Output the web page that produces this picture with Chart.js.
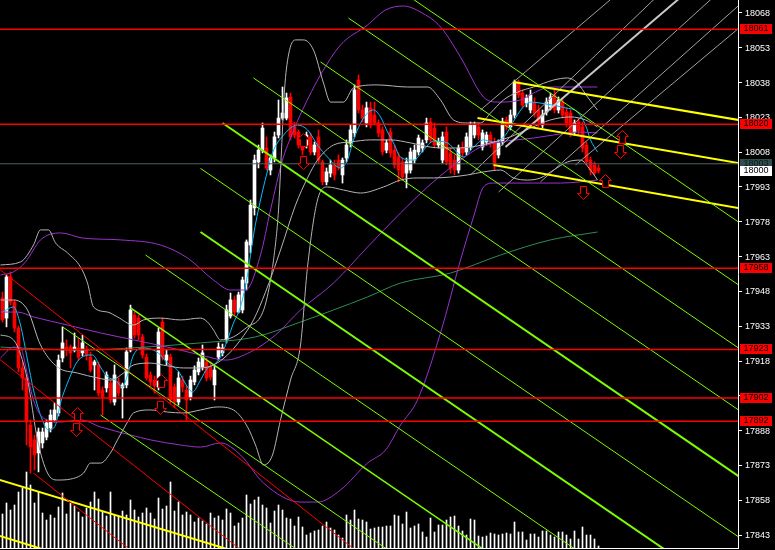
<!DOCTYPE html>
<html>
<head>
<meta charset="utf-8">
<script src="https://cdn.jsdelivr.net/npm/chart.js@4.4.0/dist/chart.umd.min.js"></script>
<style>
html, body { margin: 0; padding: 0; background: #000; overflow: hidden; }
#grafico { display: block; }
</style>
</head>
<body>
<canvas id="grafico" width="775" height="550"></canvas>
<script>
// Velas (preços)
const abertura = [17945.2,17936.5,17954.2,17943.4,17932.2,17915.0,17910.7,17890.4,17884.0,17878.4,
17882.7,17885.2,17889.1,17892.6,17895.6,17919.3,17924.0,17924.0,17922.7,17923.6,
17921.5,17922.7,17919.7,17916.3,17916.3,17905.5,17906.4,17908.5,17900.3,17909.0,
17906.4,17907.7,17922.7,17937.8,17936.5,17928.4,17919.7,17912.0,17909.8,17906.8,
17934.8,17918.4,17919.7,17906.8,17900.3,17909.8,17905.5,17902.5,17909.0,17913.3,
17915.4,17917.6,17915.4,17907.7,17919.7,17921.5,17927.1,17937.4,17944.3,17939.1,
17940.0,17951.6,17968.0,17984.0,18003.8,18008.9,18009.8,18000.3,18005.5,18015.4,
18022.7,18022.7,18031.8,18018.9,18016.7,18011.1,18011.1,18014.6,18008.1,18014.6,
18003.8,17995.2,17999.0,18002.5,18004.6,17998.2,18005.5,18012.0,18016.3,18039.1,
18026.2,18020.6,18027.1,18024.0,18020.6,18017.6,18008.9,18016.7,18008.9,18005.9,
18003.8,17999.0,18000.3,18004.6,18008.1,18009.8,18013.3,18021.0,18018.4,18011.1,
18004.6,18016.7,18007.7,18004.6,18000.3,18010.2,18008.1,18010.2,18015.4,18018.9,
18010.2,18012.4,18015.4,18012.4,18006.8,18012.4,18021.9,18018.9,18024.0,18038.3,
18033.5,18029.2,18026.2,18029.2,18026.2,18019.7,18025.3,18027.5,18032.7,18026.2,
18029.6,18025.3,18024.9,18016.7,18021.0,18018.9,18011.1,18004.6,18002.5,18001.2];
const maxima = [17947.7,17955.1,17956.4,17944.3,17933.1,17917.6,17912.0,17892.6,17886.1,17889.1,
17889.1,17892.6,17896.9,17899.9,17920.6,17932.7,17927.1,17924.9,17930.1,17927.9,
17929.2,17924.5,17921.9,17918.4,17917.6,17906.8,17913.3,17909.8,17916.3,17910.7,
17908.5,17923.6,17942.1,17939.1,17937.8,17929.6,17921.0,17913.3,17911.5,17932.2,
17936.5,17922.7,17921.0,17908.1,17913.3,17911.5,17907.2,17911.5,17915.9,17919.3,
17924.9,17919.3,17917.6,17915.9,17925.8,17925.3,17942.1,17947.3,17946.0,17947.7,
17954.2,17970.2,17987.4,18006.8,18011.1,18020.6,18014.6,18006.8,18016.7,18030.5,
18036.1,18033.5,18033.5,18021.0,18017.6,18012.4,18016.7,18016.3,18012.4,18017.6,
18004.6,18001.2,18004.6,18004.6,18006.8,18005.5,18013.3,18019.7,18037.0,18041.3,
18028.3,18029.6,18029.6,18029.6,18021.9,18018.9,18013.3,18018.4,18011.1,18007.7,
18005.5,18005.5,18009.8,18011.1,18015.4,18013.3,18022.7,18022.7,18020.6,18014.1,
18016.7,18018.9,18009.8,18006.8,18011.1,18012.4,18016.3,18021.0,18021.0,18020.6,
18017.6,18016.7,18016.7,18014.1,18013.3,18022.7,18023.2,18026.2,18039.1,18039.1,
18034.8,18032.7,18034.8,18031.4,18028.3,18026.2,18031.4,18033.5,18034.8,18031.8,
18031.4,18027.1,18026.2,18021.9,18022.7,18021.0,18012.4,18005.9,18003.8,18002.5];
const minima = [17934.8,17932.7,17942.1,17930.5,17913.3,17905.5,17881.8,17869.7,17871.0,17870.2,
17880.5,17884.0,17887.4,17891.7,17894.3,17917.6,17920.2,17915.0,17921.9,17918.4,
17920.2,17918.4,17913.3,17905.5,17902.9,17894.7,17904.6,17899.9,17899.0,17902.9,
17893.4,17906.4,17921.9,17927.9,17927.1,17919.3,17909.8,17907.2,17904.2,17905.5,
17918.4,17916.3,17899.9,17897.8,17899.0,17904.6,17892.6,17901.2,17907.7,17912.0,
17914.1,17909.4,17909.8,17901.2,17918.4,17920.2,17925.8,17936.5,17937.4,17938.7,
17938.7,17948.6,17964.6,17980.9,18001.2,18007.7,18000.3,17998.2,18003.8,18014.1,
18021.9,18021.9,18013.3,18014.1,18009.8,18006.8,18009.8,18006.8,18006.8,18003.3,
17993.9,17993.9,17997.3,17996.0,18000.3,17994.7,18003.8,18010.2,18014.6,18024.9,
18021.0,18018.9,18018.4,18019.7,18014.6,18006.8,18007.7,18005.9,18001.2,17995.2,
17996.0,17992.6,17999.0,18003.3,18006.8,18008.1,18012.0,18012.0,18009.8,18009.8,
18003.3,18002.5,17999.0,17998.2,17999.0,18005.9,18006.8,18008.9,18014.1,18013.3,
18008.9,18011.1,18010.2,18000.3,18005.5,18011.1,18017.6,18017.6,18022.7,18031.4,
18027.1,18027.5,18024.9,18023.2,18018.9,18018.4,18024.0,18026.2,18024.9,18024.9,
18022.7,18018.9,18014.6,18015.4,18015.4,18008.1,18002.5,17998.2,17998.2,17999.0];
const fechamento = [17935.7,17954.2,17943.4,17932.2,17915.0,17910.7,17891.7,17880.9,17877.5,17887.4,
17887.4,17891.3,17894.7,17896.9,17918.4,17925.8,17922.7,17921.5,17924.0,17919.7,
17925.8,17920.6,17914.1,17917.6,17904.2,17902.5,17912.0,17901.2,17912.0,17904.2,
17907.7,17921.9,17940.0,17929.2,17929.2,17920.6,17910.7,17909.0,17907.2,17930.5,
17919.7,17920.6,17901.2,17900.3,17910.7,17906.8,17901.2,17909.8,17914.1,17917.6,
17921.5,17910.7,17911.1,17914.1,17924.0,17923.6,17940.0,17944.3,17939.1,17946.5,
17952.9,17969.3,17985.2,18004.6,18008.9,18018.4,18001.2,18005.5,18014.6,18022.7,
18024.9,18031.4,18014.6,18015.4,18011.1,18008.9,18015.4,18008.1,18011.1,18004.6,
17995.2,17999.5,18002.5,17998.2,18001.6,18004.6,18011.1,18017.6,18034.8,18026.2,
18022.7,18027.1,18019.7,18020.6,18016.3,18008.1,18012.0,18007.7,18002.5,18000.3,
17997.3,18003.8,18008.1,18008.9,18014.1,18012.0,18020.6,18013.3,18011.1,18012.4,
18014.6,18003.8,18001.2,18000.3,18009.8,18007.7,18014.6,18019.7,18019.7,18015.4,
18016.3,18015.4,18012.0,18002.5,18012.0,18021.0,18018.9,18024.0,18038.3,18032.7,
18028.3,18031.4,18032.7,18024.9,18021.0,18024.0,18029.6,18031.8,18026.2,18030.5,
18024.0,18020.6,18016.3,18020.6,18017.2,18009.8,18003.8,18000.3,17999.0,17999.9];
const volumes = [34,45,38,43,56,60,76,63,45,56, 35,28,33,30,41,55,34,45,42,36,
31,40,46,56,49,36,32,56,33,32, 37,33,48,38,31,35,40,35,29,50,
39,42,66,37,46,33,36,33,26,30, 27,24,35,30,32,28,39,35,22,25,
30,53,44,48,51,43,40,25,37,43, 38,30,29,22,31,21,13,15,17,18,
22,26,20,18,13,10,33,28,38,29, 28,26,19,20,21,21,22,22,33,32,
24,36,20,22,24,16,11,30,16,23, 23,28,31,32,22,17,13,29,28,12,
11,12,15,14,13,14,15,14,26,16, 16,8,14,14,11,17,17,13,11,16,
16,13,9,17,9,21,13,13,9,2];

// Eixo de preços
const ticksPreco = [17843,17858,17873,17888,17903,17918,17933,17948,17963,17978,17993,18008,18023,18038,18053,18068];
const linhasHorizontais = [18061, 18020, 17958, 17923, 17902, 17892];
const precoBid = 18003;
const precoAtual = 18000;

// Indicadores (posição da barra, preço)
const mediaRapidaX = [0,2.75,4.5,6.25,7.75,9.5,11.5,13.25,14.5,16.25,19,22.5,24.5,26.25,28.25,30,31.25,32.75,35.25,37.75,39.5,41.25,43.75,46.25,47.5,49.5,51.25,52.75,54.5,56.25,57.75,59.5,61.25,62.75,64.5,66,67.5,70.25,73.75,76.25,78.75,81.25,84.5,86.25,87.75,90.25,92.75,94.5,96.25,97.75,99.5,102.75,105.25,107.75,111.25,113.75,115.25,117.75,120.25,122.75,125.75,127.5,130,132,135.75,140.75,143.75,145.75,147,148.75];
const mediaRapida = [17939.1,17941.3,17933.5,17918.4,17905.5,17894.7,17888.3,17890.4,17899.9,17908.5,17918.4,17920.6,17915.4,17911.1,17909.8,17906.8,17912.0,17920.6,17923.6,17922.7,17920.6,17917.1,17914.1,17906.8,17904.6,17909.8,17915.0,17916.3,17919.7,17927.1,17934.4,17941.3,17955.1,17972.3,17987.4,17998.2,18007.7,18015.4,18019.7,18017.6,18011.1,18005.9,18001.2,18004.6,18013.3,18022.7,18026.2,18023.2,18016.7,18012.0,18005.9,18004.6,18008.9,18012.8,18012.0,18007.7,18005.9,18010.2,18013.3,18012.4,18015.4,18020.6,18027.1,18029.6,18028.8,18027.1,18025.3,18019.7,18013.3,18008.1];

const bandaCinzaSupX = [-0.5,4.5,7.75,9.5,11.5,13.25,16.25,19.5,21.25,22.75,26.25,28.75,32.75,35.25,39.5,44.5,49.5,51.25,52.75,54.5,57.75,61.25,64.5,66,67.75,69,69.75,70.5,71.5,73.25,75.25,77.75,80.25,82,85.25,87.75,93.75,101.25,106.25,109.5,112.75,116.25,119.5,122,125.25,128.75,132.75,137.75,141.25,143.75,146.25,148.75];
const bandaCinzaSup = [17959.4,17960.7,17968.0,17974.5,17974.5,17968.9,17964.6,17958.5,17951.6,17941.3,17939.1,17937.0,17933.5,17935.7,17936.5,17935.7,17936.5,17934.8,17931.4,17927.1,17928.4,17932.7,17937.0,17944.3,17961.5,17983.1,18008.9,18034.8,18049.9,18056.4,18056.4,18052.0,18037.8,18029.6,18029.6,18035.7,18037.0,18036.1,18036.1,18030.5,18021.9,18020.6,18020.6,18024.9,18030.5,18033.9,18036.1,18039.1,18040.0,18037.8,18031.8,18026.2];
const bandaCinzaMedX = [-0.5,2.75,6.25,9.5,13.75,18.75,23.75,27,30.25,32.75,37,41.25,45.25,49.5,52.75,56.25,59.5,62.75,65.75,69.5,73.25,76.25,78.75,82.75,87,92,97,102,107,112,117,122,127,132,137,142,145.75,148.75];
const bandaCinzaMed = [17944.3,17944.3,17940.0,17924.9,17915.4,17912.8,17910.7,17909.8,17912.8,17916.3,17917.1,17915.9,17915.0,17915.0,17916.3,17920.6,17927.1,17935.7,17947.7,17965.8,17985.2,17996.9,18004.6,18011.1,18012.4,18013.3,18013.3,18012.0,18010.2,18009.8,18010.2,18012.0,18014.6,18018.4,18021.9,18023.2,18021.9,18018.9];
const bandaCinzaInfX = [-0.5,2.75,6.25,8.75,11.25,13.75,17,20.25,22,24.5,27,28.75,31.25,32.75,37,41.25,45.25,49.5,53.75,57.75,61.25,63.25,65.25,67.5,69.5,72,74.5,76.25,78.75,81.25,85.25,89.5,95.25,99.5,103.75,107.75,112,116.25,120.25,124.5,127.75,131.25,134.5,137.75,141.25,144.5,147,148.75];
const bandaCinzaInf = [17929.2,17927.1,17909.8,17884.0,17869.7,17866.7,17867.1,17869.7,17874.0,17874.0,17878.4,17884.0,17891.7,17895.6,17896.9,17896.0,17895.6,17896.9,17898.2,17896.9,17889.6,17881.8,17873.2,17877.5,17892.6,17909.8,17924.9,17958.5,17987.4,17993.0,17991.7,17990.4,17993.0,17996.0,17996.9,17996.9,17997.3,17998.2,17999.5,18000.3,17996.9,17996.0,17996.9,18000.3,18003.8,18004.6,18000.3,17996.0];

const bandaRoxaSupX = [-0.5,2.75,5.75,9.5,14.5,20,29.5,39.5,46.25,52.75,57,60.75,64.5,67,70,72.5,75,79.5,84.5,91.25,95.75,100.25,104.5,109.5,114.5,120.25,123.75,129.5,132.75,137,148.75];
const bandaRoxaSup = [17955.1,17956.4,17960.7,17970.2,17973.2,17971.0,17970.2,17968.0,17962.4,17952.9,17948.6,17948.6,17963.7,17983.1,18004.6,18016.3,18026.2,18041.3,18054.2,18062.8,18069.3,18071.0,18068.4,18062.0,18049.0,18031.8,18029.6,18030.5,18033.5,18036.1,18036.1];
const bandaRoxaMedX = [-0.5,3.75,7.75,16.25,24.5,32.75,41.25,49.5,55.75,62,68.25,74.5,82.75,91.25,99.5,106.25,111.25,114.5,119.5,124.5,132.75,137.75,143.75,148.75];
const bandaRoxaMed = [17939.1,17939.1,17937.0,17933.5,17930.1,17927.1,17924.0,17920.6,17918.4,17921.9,17929.2,17940.0,17951.6,17967.1,17981.8,17993.0,18000.3,18004.6,18010.2,18012.4,18014.1,18015.4,18016.7,18016.3];
const bandaRoxaInfX = [-0.5,2.75,4.5,6.25,7.75,10.25,14.5,19.5,24.5,32,37,44.5,49.5,54.5,59.5,65.25,74.5,78.75,84.5,91.25,95.75,99.5,103.75,109.5,114.5,117.75,120.25,122.75,132.75,139.5,148.75];
const bandaRoxaInf = [17919.3,17924.0,17923.6,17912.0,17901.2,17893.4,17891.7,17892.6,17889.6,17886.1,17884.0,17881.8,17880.9,17882.7,17877.5,17865.4,17857.2,17857.2,17862.4,17874.0,17879.6,17890.4,17901.2,17930.1,17961.5,17980.1,17993.0,17994.7,17994.7,17994.7,17996.0];

const mediaLentaX = [-0.5,19.5,32,49.5,63.25,74.5,82.75,91.25,99.5,112,124.5,137,148.75];
const mediaLenta = [17924.0,17922.7,17923.6,17925.8,17928.4,17934.8,17940.0,17945.6,17951.6,17955.9,17963.7,17970.2,17973.6];

// Linhas desenhadas (barra inicial, preço inicial, barra final, preço final)
const linhasVerdes = [
  [100.75,18076.2,184,17977.9], [86.5,18065.8,184,17950.8], [79.5,18046.9,184,17923.6],
  [62.75,18040.0,184,17896.9], [55,18020.6,184,17868.4], [49.5,18001.0,184,17842.2],
  [49.5,17973.6,184,17815.0], [35.75,17963.7,184,17788.7], [32,17940.9,184,17761.6],
  [15,17932.7,184,17733.1], [24.5,17894.7,184,17706.4]
];
const linhasVermelhas = [
  [7.75,17869.7,34.5,17833.1], [-1,17919.1,62,17833.3], [-1,17957.9,90.75,17833.1]
];
const linhasAmarelas = [
  [-1,17866.9,57,17836.5], [-1,17842.8,10.75,17836.5],
  [127.75,18038.3,184,18021.9], [118.75,18022.7,184,18003.3], [122.75,18002.5,184,17983.9]
];
const linhasCinzas = [
  [125.75,18010.2,170.5,18076.2], [124,17990.8,177.5,18074.5], [119.5,18026.2,152.5,18074.5],
  [134.5,17995.2,185,18072.7], [117,17998.2,163.25,18074.5], [143.25,18002.5,185,18062.8]
];

// Setas
const setasCimaX = [18.75, 39.75, 75.25, 155, 150.75];
const setasCimaY = [17895.2, 17909.4, 18013.3, 18014.6, 17995.6];
const setasBaixoX = [18.5, 39.5, 75.25, 154.5, 145.25];
const setasBaixoY = [17888.3, 17897.8, 18003.3, 18008.1, 17990.4];

const PRECO_MIN = 17837.4, PRECO_MAX = 18073.6;
const X_MIN = -0.625, X_MAX = 183.875;

function pontos(xs, ys) {
  return xs.map((x, k) => ({ x: x, y: ys[k] }));
}

function segmento(l) {
  return [{ x: l[0], y: l[1] }, { x: l[2], y: l[3] }];
}

function linha(dados, cor, largura, extra) {
  return Object.assign({
    type: 'line', data: dados, borderColor: cor, borderWidth: largura,
    pointRadius: 0, fill: false, tension: 0, order: 5
  }, extra || {});
}

function criaSeta(paraCima) {
  const c = document.createElement('canvas');
  c.width = 13; c.height = 14;
  const g = c.getContext('2d');
  let pts = [[6.5,0.5],[12.5,6.5],[9.5,6.5],[9.5,13.5],[3.5,13.5],[3.5,6.5],[0.5,6.5]];
  if (!paraCima) pts = pts.map(p => [p[0], 14 - p[1]]);
  g.beginPath();
  pts.forEach((p, k) => k ? g.lineTo(p[0], p[1]) : g.moveTo(p[0], p[1]));
  g.closePath();
  g.fillStyle = '#000';
  g.fill();
  g.strokeStyle = '#ff0000';
  g.lineWidth = 1;
  g.stroke();
  return c;
}

const corVela = abertura.map((a, i) => fechamento[i] >= a ? '#ffffff' : '#ff0000');
const idx = abertura.map((_, i) => i);

const datasets = [];

datasets.push({
  type: 'bar', yAxisID: 'vol', order: 30, grouped: false,
  data: volumes.map((v, i) => ({ x: i, y: v })),
  backgroundColor: '#ffffff', barThickness: 1, borderWidth: 0
});
datasets.push({
  type: 'bar', order: 25, grouped: false,
  data: idx.map(i => ({ x: i, y: [minima[i], maxima[i]] })),
  backgroundColor: corVela, barThickness: 1, borderWidth: 0
});
datasets.push({
  type: 'bar', order: 24, grouped: false,
  data: idx.map(i => ({ x: i, y: [abertura[i], fechamento[i]] })),
  backgroundColor: corVela, barThickness: 3, borderWidth: 0, minBarLength: 1
});

// Indicadores
const suave = { cubicInterpolationMode: 'monotone', order: 10 };
datasets.push(linha(pontos(bandaCinzaSupX, bandaCinzaSup), '#b4b4b4', 1, suave));
datasets.push(linha(pontos(bandaCinzaMedX, bandaCinzaMed), '#b4b4b4', 1, suave));
datasets.push(linha(pontos(bandaCinzaInfX, bandaCinzaInf), '#b4b4b4', 1, suave));
datasets.push(linha(pontos(bandaRoxaSupX, bandaRoxaSup), '#9932cc', 1, suave));
datasets.push(linha(pontos(bandaRoxaMedX, bandaRoxaMed), '#9932cc', 1, suave));
datasets.push(linha(pontos(bandaRoxaInfX, bandaRoxaInf), '#9932cc', 1, suave));
datasets.push(linha(pontos(mediaLentaX, mediaLenta), '#2e8b57', 1, suave));
datasets.push(linha(pontos(mediaRapidaX, mediaRapida), '#00bfff', 1, suave));

// Linhas horizontais
linhasHorizontais.forEach(p => {
  datasets.push(linha([{ x: X_MIN, y: p }, { x: X_MAX, y: p }], '#ff0000', 1.5));
});
datasets.push(linha([{ x: X_MIN, y: precoBid }, { x: X_MAX, y: precoBid }], '#506464', 1));

// Linhas de tendência
const larguraVerdes = [1, 1, 1, 1, 2, 1, 2, 1, 1.5, 1, 1];
linhasVerdes.forEach((l, k) => datasets.push(linha(segmento(l), '#7cfc00', larguraVerdes[k])));
linhasVermelhas.forEach(l => datasets.push(linha(segmento(l), '#ff0000', 1)));
linhasAmarelas.forEach(l => datasets.push(linha(segmento(l), '#ffff00', 2)));
linhasCinzas.forEach((l, k) => datasets.push(linha(segmento(l), k === 0 ? '#c8c8c8' : '#a0a0a0', k === 0 ? 2 : 1)));

// Setas
const setaCima = criaSeta(true), setaBaixo = criaSeta(false);
datasets.push({ type: 'scatter', order: 1, data: pontos(setasCimaX, setasCimaY), pointStyle: setaCima, pointRadius: 6 });
datasets.push({ type: 'scatter', order: 1, data: pontos(setasBaixoX, setasBaixoY), pointStyle: setaBaixo, pointRadius: 6 });

// Etiquetas coloridas no eixo de preços
const etiquetas = linhasHorizontais.map(p => ({ preco: p, fundo: '#ff0000', texto: '#000000' }));
etiquetas.push({ preco: precoBid, fundo: '#2f4f4f', texto: '#101818' });
etiquetas.push({ preco: precoAtual, fundo: '#ffffff', texto: '#000000' });

// Os rótulos do eixo são desenhados aqui para não mexer na área do gráfico
const pluginEtiquetas = {
  id: 'etiquetas',
  afterDraw(chart) {
    const ctx = chart.ctx;
    const escala = chart.scales.y;
    const x0 = chart.chartArea.right;
    ctx.save();
    ctx.font = '9px "Liberation Sans"';
    ctx.textBaseline = 'middle';
    ctx.textAlign = 'left';
    ctx.fillStyle = '#ffffff';
    ticksPreco.forEach(v => {
      ctx.fillText(String(v), x0 + 7, Math.round(escala.getPixelForValue(v)) + 0.5);
    });
    ctx.textAlign = 'center';
    etiquetas.forEach(e => {
      const py = Math.round(escala.getPixelForValue(e.preco));
      ctx.fillStyle = e.fundo;
      ctx.fillRect(x0 + 2, py - 5, 32, 10);
      ctx.fillStyle = e.texto;
      ctx.fillText(String(e.preco), x0 + 18, py);
    });
    ctx.restore();
  }
};

window.grafico = new Chart(document.getElementById('grafico').getContext('2d'), {
  data: { datasets: datasets },
  options: {
    responsive: false,
    animation: false,
    devicePixelRatio: 1,
    layout: { padding: 0, autoPadding: false },
    plugins: { legend: { display: false }, tooltip: { enabled: false } },
    scales: {
      x: {
        type: 'linear', min: X_MIN, max: X_MAX, offset: false,
        ticks: { display: false },
        grid: { display: false },
        border: { display: true, color: '#ffffff', width: 1 },
        afterFit: s => { s.height = 2; }
      },
      y: {
        type: 'linear', position: 'right', min: PRECO_MIN, max: PRECO_MAX,
        afterBuildTicks: s => { s.ticks = ticksPreco.map(v => ({ value: v })); },
        afterFit: s => { s.width = 37; },
        ticks: { display: false },
        grid: { drawOnChartArea: false, drawTicks: true, tickLength: 4, color: '#ffffff' },
        border: { display: true, color: '#ffffff', width: 1 }
      },
      vol: { type: 'linear', display: false, min: 0, max: 548 }
    }
  },
  plugins: [pluginEtiquetas]
});
</script>
</body>
</html>
